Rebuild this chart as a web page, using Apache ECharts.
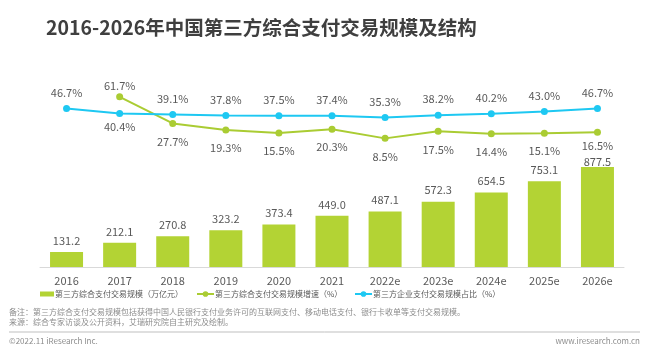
<!DOCTYPE html>
<html>
<head>
<meta charset="utf-8">
<script src="https://cdn.jsdelivr.net/npm/echarts@6/dist/echarts.min.js"></script>
<style>
  html, body { margin: 0; padding: 0; background: #fff; }
  #chart { width: 649px; height: 353px; }
</style>
</head>
<body>
<div id="chart"></div>
<script>
  let years = ['2016', '2017', '2018', '2019', '2020', '2021', '2022e', '2023e', '2024e', '2025e', '2026e'];
  let scale = [131.2, 212.1, 270.8, 323.2, 373.4, 449.0, 487.1, 572.3, 654.5, 753.1, 877.5];
  let growth = [null, 61.7, 27.7, 19.3, 15.5, 20.3, 8.5, 17.5, 14.4, 15.1, 16.5];
  let share = [46.7, 40.4, 39.1, 37.8, 37.5, 37.4, 35.3, 38.2, 40.2, 43.0, 46.7];
  let names = ['第三方综合支付交易规模（万亿元）', '第三方综合支付交易规模增速（%）', '第三方企业支付交易规模占比（%）'];

  let font = '"Microsoft YaHei", "Noto Sans CJK SC", sans-serif';
  let txt = '#595959';

  let last = years.length - 1;

  // 2017: growth label above, share label below; last labels squeezed
  let growthData = growth.map(function (v, i) {
    return {
      value: v,
      label: { position: i === 1 ? 'top' : 'bottom', distance: i === 1 ? 2 : (i === last ? 5 : 9) }
    };
  });
  let shareData = share.map(function (v, i) {
    return {
      value: v,
      label: { position: i === 1 ? 'bottom' : 'top', distance: i === 1 ? 4 : 7 }
    };
  });
  let scaleData = scale.map(function (v, i) {
    return { value: v, label: { distance: i === last ? 0 : 6 } };
  });

  // one legend per item so each sits where the reference has it
  let legendLeft = [40, 196, 354];
  let legends = names.map(function (n, i) {
    return {
      top: 290,
      left: legendLeft[i],
      padding: 0,
      itemWidth: i === 0 ? 14 : 17,
      itemHeight: i === 0 ? 5 : 7,
      itemGap: 0,
      textStyle: { fontSize: 8, color: txt, fontFamily: font, padding: [0, 0, 0, -4] },
      data: [i === 0 ? { name: n, icon: 'rect' } : { name: n }]
    };
  });

  let option = {
    animation: false,
    title: {
      text: '2016-2026年中国第三方综合支付交易规模及结构',
      left: 46,
      top: 18,
      padding: 0,
      textStyle: { fontSize: 19.5, fontWeight: 'bold', color: '#3f3f3f', fontFamily: font }
    },
    legend: legends,
    grid: [
      { left: 40, right: 25, top: 153, bottom: 86 },
      { left: 40, right: 25, top: 67, bottom: 208 }
    ],
    xAxis: [
      {
        type: 'category',
        gridIndex: 0,
        data: years,
        axisTick: { show: false },
        axisLine: { lineStyle: { color: '#d9d9d9', width: 1 } },
        axisLabel: { color: txt, fontSize: 11, fontFamily: font, margin: 8 }
      },
      {
        type: 'category',
        gridIndex: 1,
        data: years,
        show: false
      }
    ],
    yAxis: [
      { type: 'value', gridIndex: 0, min: 0, max: 1000, show: false, splitLine: { show: false } },
      { type: 'value', gridIndex: 1, min: 0, max: 100, show: false, splitLine: { show: false } }
    ],
    series: [
      {
        name: names[0],
        type: 'bar',
        xAxisIndex: 0,
        yAxisIndex: 0,
        data: scaleData,
        barWidth: 33,
        itemStyle: { color: '#b3d334' },
        label: {
          show: true,
          position: 'top',
          color: txt,
          fontSize: 11,
          fontFamily: font,
          formatter: function (p) { return p.value.toFixed(1); }
        }
      },
      {
        name: names[1],
        type: 'line',
        xAxisIndex: 1,
        yAxisIndex: 1,
        data: growthData,
        symbol: 'circle',
        symbolSize: 7,
        lineStyle: { color: '#aacc33', width: 2 },
        itemStyle: { color: '#aacc33' },
        label: {
          show: true,
          color: txt,
          fontSize: 11,
          fontFamily: font,
          formatter: function (p) { return p.value.toFixed(1) + '%'; }
        }
      },
      {
        name: names[2],
        type: 'line',
        xAxisIndex: 1,
        yAxisIndex: 1,
        data: shareData,
        symbol: 'circle',
        symbolSize: 7,
        lineStyle: { color: '#1ec8f2', width: 2 },
        itemStyle: { color: '#1ec8f2' },
        label: {
          show: true,
          color: txt,
          fontSize: 11,
          fontFamily: font,
          formatter: function (p) { return p.value.toFixed(1) + '%'; }
        }
      }
    ],
    graphic: [
      {
        type: 'text', left: 9, top: 308,
        style: { text: '备注：第三方综合支付交易规模包括获得中国人民银行支付业务许可的互联网支付、移动电话支付、银行卡收单等支付交易规模。', fill: '#8c8c8c', fontSize: 8, fontFamily: font }
      },
      {
        type: 'text', left: 9, top: 318,
        style: { text: '来源：综合专家访谈及公开资料，艾瑞研究院自主研究及绘制。', fill: '#8c8c8c', fontSize: 8, fontFamily: font }
      },
      {
        type: 'line',
        shape: { x1: 9, y1: 332, x2: 640, y2: 332 },
        style: { stroke: '#bfbfbf', lineWidth: 1 }
      },
      {
        type: 'text', left: 9, top: 337,
        style: { text: '©2022.11 iResearch Inc.', fill: '#8c8c8c', fontSize: 8, fontFamily: font }
      },
      {
        type: 'text', right: 9, top: 337,
        style: { text: 'www.iresearch.com.cn', fill: '#8c8c8c', fontSize: 8, fontFamily: font }
      }
    ]
  };

  var myChart = echarts.init(document.getElementById('chart'));
  myChart.setOption(option);
</script>
</body>
</html>
